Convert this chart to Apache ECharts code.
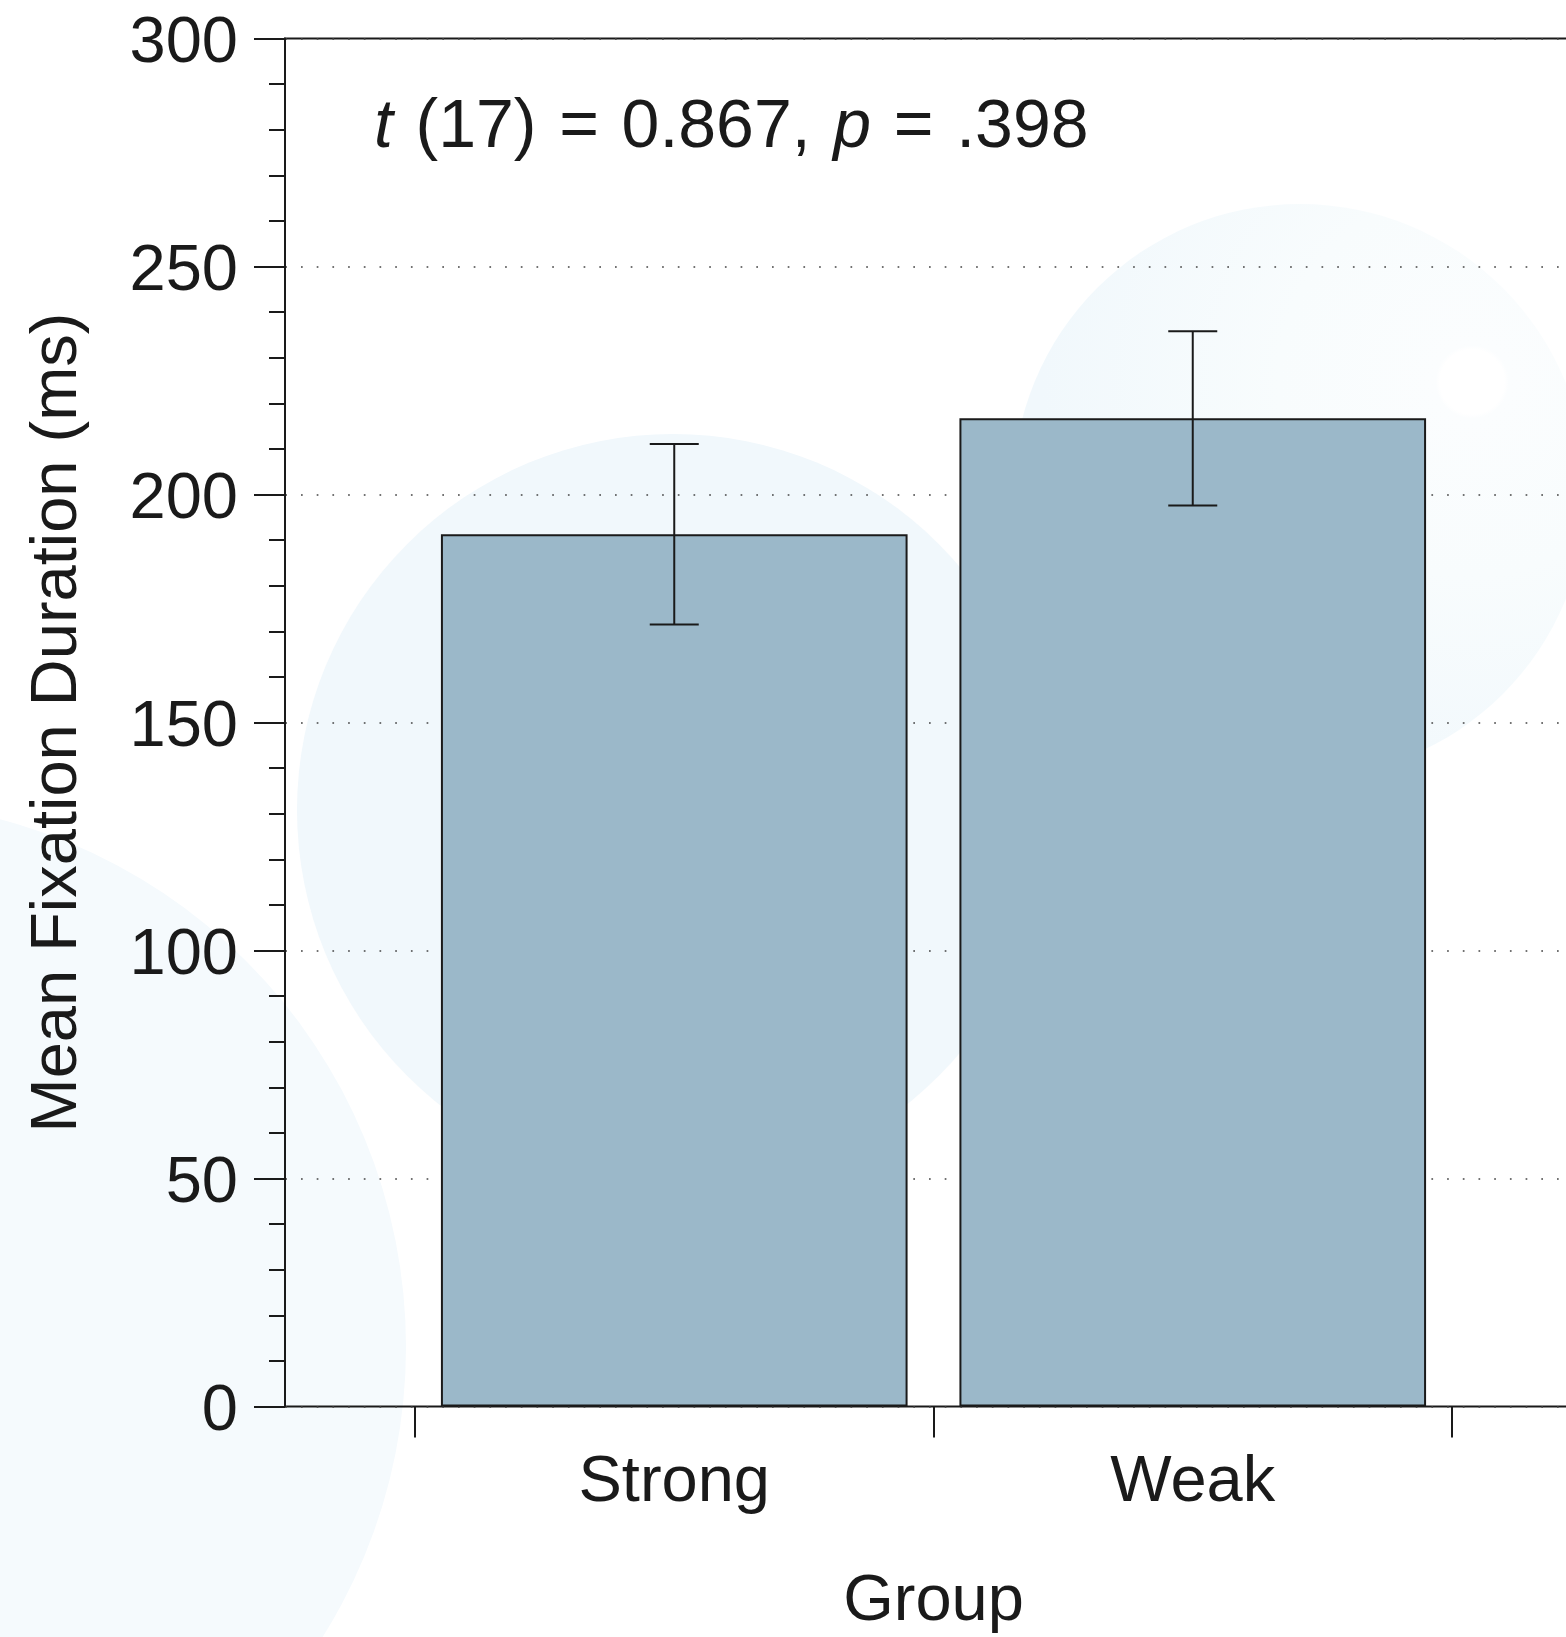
<!DOCTYPE html>
<html>
<head>
<meta charset="utf-8">
<script src="https://cdn.jsdelivr.net/npm/echarts@6/dist/echarts.min.js"></script>
<style>
  html, body { margin: 0; padding: 0; background: #ffffff; overflow: hidden; }
  #chart { width: 1600px; height: 1637px; }
</style>
</head>
<body>
<div id="chart"></div>
<script>
// ---- data ----
const categories = ['Strong', 'Weak'];
const means = [191.3, 216.7];
const errors = [19.8, 19.1];
const yMin = 0, yMax = 300, yInterval = 50;
const xTitle = 'Group';
const yTitle = 'Mean Fixation Duration (ms)';
const statText = '{it|t}\u2004(17)\u2004=\u20040.867,\u2004{it|p}\u2004=\u2004.398';

// ---- chart ----
const FONT = '"Liberation Sans", Arial, sans-serif';
const FS = 65;
const FS_STAT = 68;
const INK = '#1a1a1a';
const TOP = 38.5, HEIGHT = 1368;

const errData = categories.map((c, i) => [i, means[i] - errors[i], means[i] + errors[i]]);

const chart = echarts.init(document.getElementById('chart'), null, { renderer: 'canvas' });
chart.setOption({
  backgroundColor: '#ffffff',
  animation: false,
  graphic: [
    { type: 'circle', z: -100, shape: { cx: -140, cy: 1347, r: 546 }, style: { fill: '#f5fafd' } },
    { type: 'circle', z: -100, shape: { cx: 673, cy: 810, r: 376 }, style: { fill: '#f1f8fc' } },
    { type: 'circle', z: -100, shape: { cx: 1300, cy: 491, r: 287 },
      style: { fill: new echarts.graphic.RadialGradient(0.8, 0.31, 0.75, [
        { offset: 0, color: '#ffffff' }, { offset: 0.075, color: '#ffffff' },
        { offset: 0.085, color: '#fbfdfe' }, { offset: 0.45, color: '#f8fcfd' },
        { offset: 1, color: '#f1f8fc' }]) } },
    { type: 'text', z: 10, left: 374, top: 128 - FS_STAT / 2,
      style: { text: statText, font: FS_STAT + 'px ' + FONT, fill: INK,
        rich: { it: { fontStyle: 'italic', fontSize: FS_STAT, fontFamily: FONT, fill: INK } } } }
  ],
  grid: [
    { left: 285, top: TOP, width: 1297, height: HEIGHT, show: true, outerBoundsMode: 'none',
      borderColor: INK, borderWidth: 2, backgroundColor: 'transparent', containLabel: false },
    { left: 415, top: TOP, width: 1037, height: HEIGHT, show: false, outerBoundsMode: 'none',
      containLabel: false }
  ],
  xAxis: [
    { gridIndex: 0, type: 'value', min: 0.25, max: 2.75, show: false },
    { gridIndex: 1, type: 'category', data: categories, boundaryGap: true,
      axisLine: { show: false },
      axisTick: { show: true, length: 31, alignWithLabel: false, lineStyle: { color: INK, width: 2 } },
      axisLabel: { margin: 44, color: INK, fontSize: FS, fontFamily: FONT },
      name: xTitle, nameLocation: 'middle', nameGap: 163,
      nameTextStyle: { color: INK, fontSize: FS, fontFamily: FONT },
      splitLine: { show: false } }
  ],
  yAxis: [
    { gridIndex: 0, type: 'value', min: yMin, max: yMax, interval: yInterval,
      axisLine: { show: true, lineStyle: { color: INK, width: 2 } },
      axisTick: { show: true, length: 31, lineStyle: { color: INK, width: 2 } },
      minorTick: { show: true, splitNumber: 5, length: 16, lineStyle: { color: INK, width: 2 } },
      axisLabel: { margin: 47, color: INK, fontSize: FS, fontFamily: FONT,
        formatter: '{a|{value}}',
        rich: { a: { fontSize: FS, fontFamily: FONT, color: INK, padding: [11, 0, 0, 0] } } },
      splitLine: { show: true, lineStyle: { color: '#444', width: 1.7, type: [1.7, 14], dashOffset: -16 } },
      name: yTitle, nameLocation: 'middle', nameGap: 194,
      nameTextStyle: { color: INK, fontSize: FS, fontFamily: FONT } },
    { gridIndex: 1, type: 'value', min: yMin, max: yMax, interval: yInterval, show: false,
      splitLine: { show: false } }
  ],
  series: [
    { type: 'bar', xAxisIndex: 1, yAxisIndex: 1, data: means, barWidth: '90%', z: 3,
      itemStyle: { color: '#9bb8c9', borderColor: INK, borderWidth: 2 } },
    { type: 'custom', xAxisIndex: 1, yAxisIndex: 1, data: errData, z: 5,
      renderItem: function (params, api) {
        const x = api.value(0);
        const lo = api.coord([x, api.value(1)]);
        const hi = api.coord([x, api.value(2)]);
        const hw = 24.5;
        const st = { stroke: INK, lineWidth: 2, fill: null };
        return { type: 'group', children: [
          { type: 'line', shape: { x1: lo[0], y1: lo[1], x2: hi[0], y2: hi[1] }, style: st },
          { type: 'line', shape: { x1: lo[0] - hw, y1: lo[1], x2: lo[0] + hw, y2: lo[1] }, style: st },
          { type: 'line', shape: { x1: hi[0] - hw, y1: hi[1], x2: hi[0] + hw, y2: hi[1] }, style: st }
        ] };
      } }
  ]
});
</script>
</body>
</html>
